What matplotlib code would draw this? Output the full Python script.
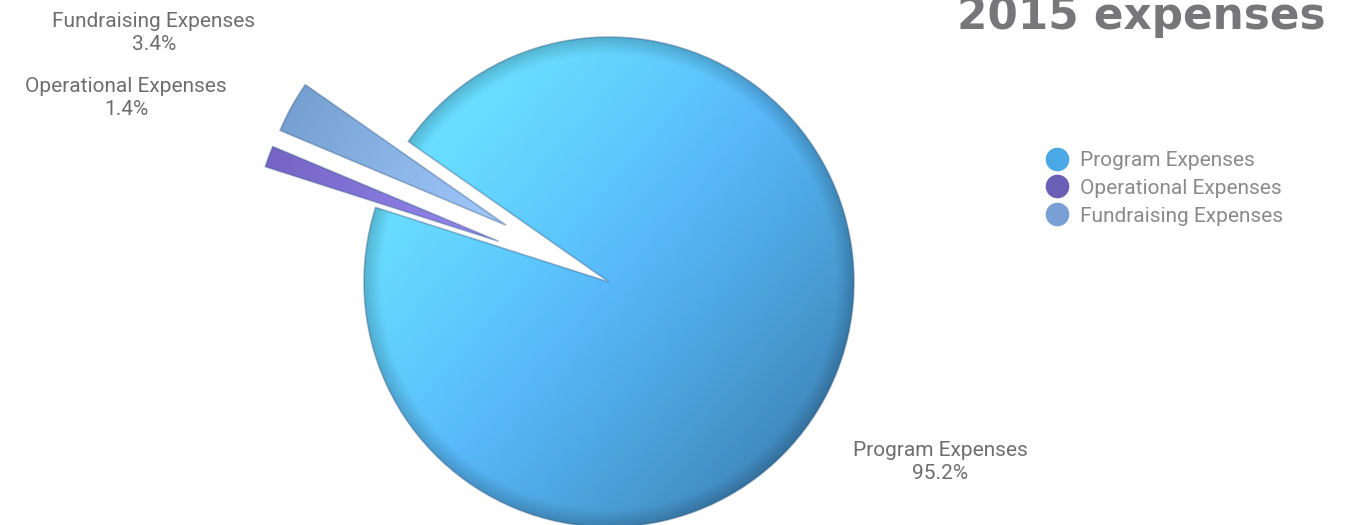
import numpy as np
import matplotlib
matplotlib.use("Agg")
import matplotlib.pyplot as plt
from matplotlib.colors import LinearSegmentedColormap
from matplotlib.lines import Line2D

# 2015 expenses breakdown
labels = ["Program Expenses", "Operational Expenses", "Fundraising Expenses"]
shares = [95.2, 1.4, 3.4]
legend_colors = ["#4aa8e6", "#6a5fb5", "#78a0d4"]
title = "2015 expenses"

W, H = 1353, 525
cx, cy, r = 609, H - 282, 245

fig = plt.figure(figsize=(W / 100, H / 100), dpi=100)
ax = fig.add_axes([0, 0, 1, 1])

# explode is in data units here (radius is in pixels)
wedges, _ = ax.pie(shares, colors=legend_colors, startangle=145.0, counterclock=False,
                   explode=[0, 0.48 * r, 0.48 * r], center=(cx, cy), radius=r, frame=True,
                   wedgeprops=dict(linewidth=1.2, edgecolor=(0.2, 0.35, 0.5, 0.4)))
ax.set_xlim(0, W)
ax.set_ylim(0, H)
ax.set_aspect("equal")
ax.axis("off")

# shaded fills, clipped to each wedge
xs = np.linspace(0, W, W // 2)
ys = np.linspace(0, H, H // 2)
X, Y = np.meshgrid(xs, ys)
Ypx = H - Y

prog_cmap = LinearSegmentedColormap.from_list("prog", [
    (0.0, "#68ddff"), (0.3, "#5dc6fc"), (0.45, "#58b8fa"),
    (0.75, "#4aa0d8"), (1.0, "#3f86bc")])
s = 0.65 * (X - 450) / 400 + 0.5 * (Ypx - 150) / 350
rho = np.hypot(X - cx, Y - cy) / r
img = prog_cmap(np.clip(s, 0, 1))
rim = np.clip((rho - 0.93) / 0.07, 0, 1)[..., None] * 0.18
img[..., :3] = img[..., :3] * (1 - rim)

def tip_gradient(wedge, c_in, c_out):
    tx, ty = wedge.center
    t = np.clip(np.hypot(X - tx, Y - ty) / r, 0, 1)
    cm = LinearSegmentedColormap.from_list("w", [c_in, c_out])
    return cm(t)

fills = [img,
         tip_gradient(wedges[1], "#958cf4", "#7663c4"),
         tip_gradient(wedges[2], "#a2caff", "#76a0d2")]

for w, f in zip(wedges, fills):
    im = ax.imshow(f, extent=(0, W, 0, H), origin="lower", interpolation="bilinear", zorder=1)
    im.set_clip_path(w)
    w.set_zorder(2)
    w.set_facecolor("none")

ax.set_xlim(0, W)
ax.set_ylim(0, H)

# slice labels
lab_font = dict(family="Roboto", size=15, color="#6e6e6e",
                ha="center", va="center", linespacing=1.3)
ax.text(940, H - 462, "%s\n%.1f%%" % (labels[0], shares[0]), **lab_font)
ax.text(126, H - 98, "%s\n%.1f%%" % (labels[1], shares[1]), **lab_font)
ax.text(154, H - 33, "%s\n%.1f%%" % (labels[2], shares[2]), **lab_font)

# title, partly cut off at the top as in the original
ax.text(1326, H - 29, title, family="DejaVu Sans", weight="bold", size=31.5,
        color="#77777a", ha="right", va="baseline")

handles = [Line2D([], [], marker="o", ls="", markersize=16, color=c) for c in legend_colors]
leg = ax.legend(handles, labels, loc="upper left", bbox_to_anchor=(1047 / W, (H - 151) / H),
                frameon=False, borderpad=0, borderaxespad=0, handlelength=1,
                handletextpad=0.6, labelspacing=0.42,
                prop=dict(family="Roboto", size=15))
for t in leg.get_texts():
    t.set_color("#8a8a8a")

fig.savefig("out.png", dpi=100)
